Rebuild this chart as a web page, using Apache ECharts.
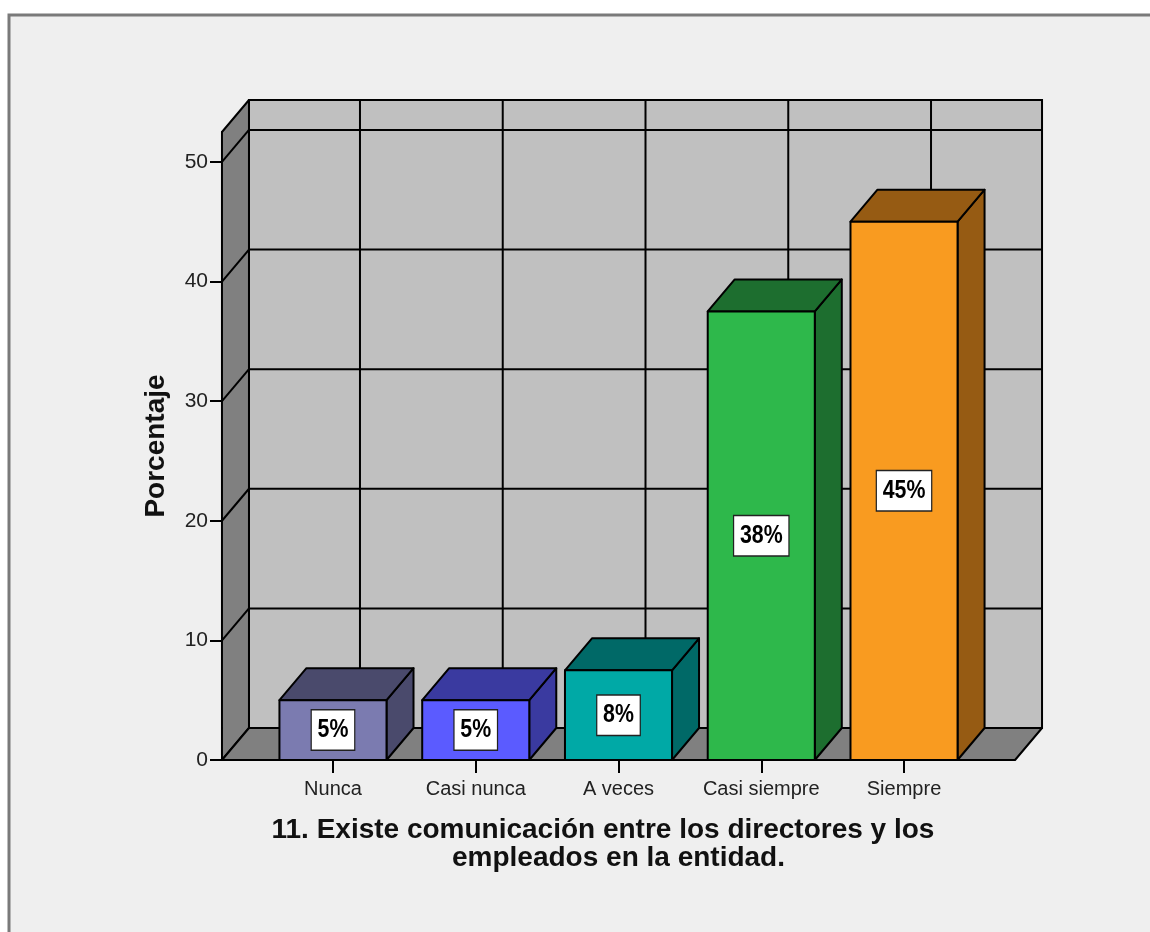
<!DOCTYPE html>
<html>
<head>
<meta charset="utf-8">
<title>Comunicación entre directores y empleados</title>
<script src="https://cdn.jsdelivr.net/npm/echarts@6/dist/echarts.min.js"></script>
<style>
  html, body { margin: 0; padding: 0; background: #ffffff; }
  #chart { width: 1150px; height: 932px; }
</style>
</head>
<body>
<div id="chart"></div>
<script>
// Categories, percentages and axis ticks
const categories = ['Nunca', 'Casi nunca', 'A veces', 'Casi siempre', 'Siempre'];
const percentages = [5, 5, 7.5, 37.5, 45];
const yTicks = [0, 10, 20, 30, 40, 50];
const yMax = 52.5;
const frontColors = ['#7b7bb0', '#5b5bff', '#00a9a6', '#2eb84b', '#f99b20'];
const shadeColors = ['#4a4a6c', '#3a3aa0', '#006967', '#1d6e2f', '#965b13'];
const titleText = '11. Existe comunicación entre los directores y los    \nempleados en la entidad.';

// Depth of the 3D box (pixels)
const DX = 27, DY = -32;
const BAR_RATIO = 0.75;     // front face width as share of a category band
const SIDE_PAD = 0.7776;    // floor extension beyond first/last category centre, in bands
const FONT = '"Liberation Sans", Arial, sans-serif';

const chart = echarts.init(document.getElementById('chart'), null, { renderer: 'canvas' });

function backdrop(params, api) {
  const band = api.size([1, 0])[0];
  const first = api.coord([0, 0]);
  const last = api.coord([categories.length - 1, 0]);
  const xL = first[0] - SIDE_PAD * band;
  const xR = last[0] + SIDE_PAD * band;
  const y0 = first[1];
  const yTop = api.coord([0, yMax])[1];
  const line = { stroke: '#000', lineWidth: 2 };
  const children = [];
  // back wall
  children.push({ type: 'rect', shape: { x: xL + DX, y: yTop + DY, width: xR - xL, height: y0 - yTop },
    style: { fill: '#c0c0c0', stroke: '#000', lineWidth: 2 } });
  // left wall
  children.push({ type: 'polygon', shape: { points: [[xL, yTop], [xL + DX, yTop + DY], [xL + DX, y0 + DY], [xL, y0]] },
    style: { fill: '#808080', stroke: '#000', lineWidth: 2, lineJoin: 'round' } });
  // floor
  children.push({ type: 'polygon', shape: { points: [[xL, y0], [xL + DX, y0 + DY], [xR + DX, y0 + DY], [xR, y0]] },
    style: { fill: '#808080', stroke: '#000', lineWidth: 2, lineJoin: 'round' } });
  // horizontal grid lines on back wall + diagonals on left wall
  yTicks.forEach(function (t) {
    if (t === 0) return;
    const y = api.coord([0, t])[1];
    children.push({ type: 'line', shape: { x1: xL + DX, y1: y + DY, x2: xR + DX, y2: y + DY }, style: line });
    children.push({ type: 'line', shape: { x1: xL, y1: y, x2: xL + DX, y2: y + DY }, style: line });
  });
  // vertical grid lines on back wall at each category
  categories.forEach(function (c, i) {
    const x = api.coord([i, 0])[0];
    children.push({ type: 'line', shape: { x1: x + DX, y1: yTop + DY, x2: x + DX, y2: y0 + DY }, style: line });
  });
  return { type: 'group', children: children };
}

function bar3d(params, api) {
  const i = api.value(0);
  const v = api.value(1);
  const band = api.size([1, 0])[0];
  const base = api.coord([i, 0]);
  const top = api.coord([i, v]);
  const half = band * BAR_RATIO / 2;
  const L = base[0] - half, R = base[0] + half;
  const yT = top[1], yB = base[1];
  const edge = { stroke: '#000', lineWidth: 2, lineJoin: 'round' };
  const mid = api.coord([i, v / 2]);
  return {
    type: 'group',
    children: [
      { type: 'polygon', shape: { points: [[R, yT], [R + DX, yT + DY], [R + DX, yB + DY], [R, yB]] },
        style: Object.assign({ fill: shadeColors[i] }, edge) },
      { type: 'polygon', shape: { points: [[L, yT], [L + DX, yT + DY], [R + DX, yT + DY], [R, yT]] },
        style: Object.assign({ fill: shadeColors[i] }, edge) },
      { type: 'rect', shape: { x: L, y: yT, width: R - L, height: yB - yT },
        style: Object.assign({ fill: frontColors[i] }, edge) },
      // value label, horizontally condensed
      { type: 'text', x: mid[0], y: mid[1], z2: 10, scaleX: 0.82,
        style: {
          text: Math.round(v) + '%',
          font: 'bold 26px ' + FONT,
          fill: '#000', align: 'center', verticalAlign: 'middle',
          backgroundColor: '#ffffff', borderColor: '#222', borderWidth: 1.5,
          padding: [7, 7, 6, 7]
        } }
    ]
  };
}

const option = {
  backgroundColor: '#ffffff',
  animation: false,
  graphic: [{
    type: 'rect', z: -10, silent: true,
    shape: { x: 9, y: 15, width: 1200, height: 1000 },
    style: { fill: '#efefef', stroke: '#7a7a7a', lineWidth: 3 }
  }],
  grid: { left: 261.6, right: 174.6, top: 132, bottom: 172, containLabel: false },
  xAxis: {
    type: 'category',
    data: categories,
    axisLine: { show: false },
    axisTick: { show: true, interval: 0, alignWithLabel: true, length: 13, lineStyle: { color: '#000', width: 2 } },
    axisLabel: { interval: 0, margin: 19, fontSize: 20, color: '#222', fontFamily: FONT },
    splitLine: { show: false },
    name: titleText,
    nameLocation: 'middle',
    nameGap: 56,
    nameTextStyle: { fontSize: 28, fontWeight: 'bold', color: '#111', lineHeight: 28,
      fontFamily: FONT, align: 'center' }
  },
  yAxis: {
    type: 'value',
    min: 0, max: yMax, interval: 10,
    offset: 39.6,
    axisLine: { show: true, lineStyle: { color: '#000', width: 2 } },
    axisTick: { show: true, length: 12, customValues: yTicks, lineStyle: { color: '#000', width: 2 } },
    axisLabel: { margin: 14, fontSize: 21, color: '#222', customValues: yTicks,
      padding: [7, 0, 0, 0], fontFamily: FONT },
    splitLine: { show: false },
    name: 'Porcentaje',
    nameLocation: 'middle',
    nameGap: 52,
    nameTextStyle: { fontSize: 28, fontWeight: 'bold', color: '#111', fontFamily: FONT }
  },
  series: [
    { type: 'custom', z: 1, silent: true, renderItem: backdrop, data: [[0, 0]], clip: false },
    { type: 'custom', z: 2, silent: true, renderItem: bar3d, clip: false,
      data: percentages.map(function (v, i) { return [i, v]; }) }
  ]
};

chart.setOption(option);
</script>
</body>
</html>
